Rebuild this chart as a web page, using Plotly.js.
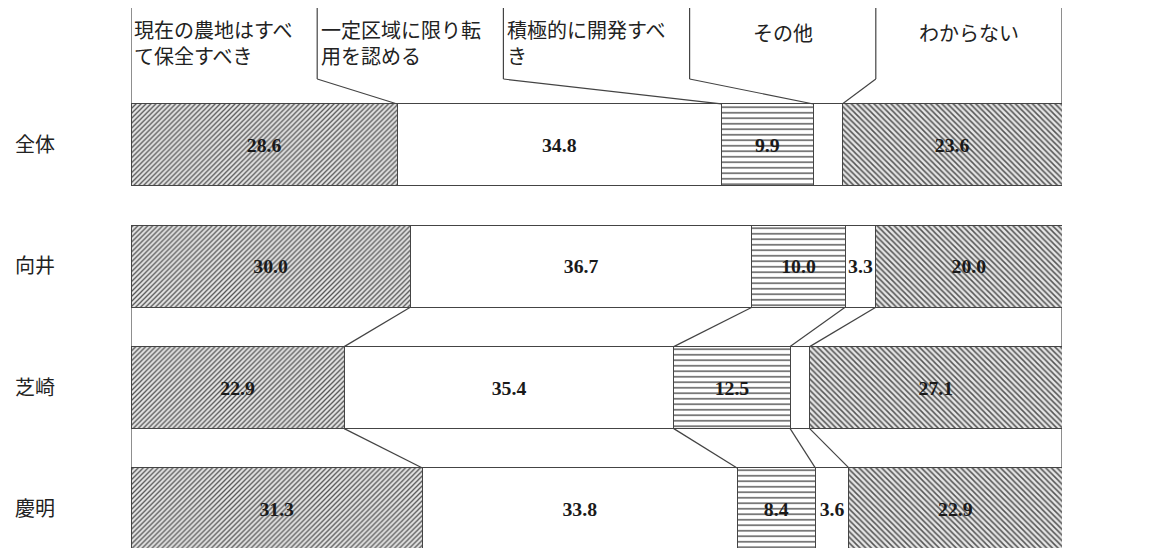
<!DOCTYPE html>
<html>
<head>
<meta charset="utf-8">
<script src="https://cdn.plot.ly/plotly-3.0.1.min.js"></script>
<style>
  body { margin: 0; background: #fff; }
  #graph { width: 1149px; height: 548px; }
</style>
</head>
<body>
<div id="graph"></div>
<script>
// 地域ごとの回答（%）
var rows = ["全体", "向井", "芝崎", "慶明"];
var nCount = [161, 30, 48, 83];

var headLabels = [
    "現在の農地はすべ<br>て保全すべき",
    "一定区域に限り転<br>用を認める",
    "積極的に開発すべ<br>き",
    "その他",
    "わからない"
];

var hozen   = [28.6, 30.0, 22.9, 31.3];
var tenyou  = [34.8, 36.7, 35.4, 33.8];
var kaihatsu = [9.9, 10.0, 12.5, 8.4];
var sonota  = [3.1, 3.3, 2.1, 3.6];
var wakaranai = [23.6, 20.0, 27.1, 22.9];

// ラベルが印刷されていない小さい値は空にする
var sonotaText = ["", "3.3", "", "3.6"];

var series = [hozen, tenyou, kaihatsu, sonota, wakaranai];

// 縦位置（px -> データ座標）
var H = 548;
var yTop = -1.195, yBottom = 3.322;
var pxUnit = H / (yBottom - yTop);
function py(px) { return yTop + px / pxUnit; }
var bw = 0.676;

var lineCol = "#444";
var txtFont = { family: "Liberation Serif, Times New Roman, serif", size: 20, color: "#1a1a1a", weight: "bold" };

var patterns = [
    { shape: "/", fgcolor: "#555", bgcolor: "#e6e6e6", size: 3.5, solidity: 0.38 },
    null,
    { shape: "-", fgcolor: "#333", bgcolor: "#ffffff", size: 5.5, solidity: 0.22 },
    null,
    { shape: "\\", fgcolor: "#555", bgcolor: "#e6e6e6", size: 4, solidity: 0.38 }
];

var data = [];
series.forEach(function(vals, i) {
    var txt = (i == 3) ? sonotaText : vals.map(function(v) { return v.toFixed(1); });
    var marker = { color: "#ffffff", line: { color: lineCol, width: 1 } };
    if (patterns[i]) marker.pattern = patterns[i];
    data.push({
        type: "bar",
        orientation: "h",
        x: vals,
        y: rows,
        width: bw,
        text: txt,
        textposition: "inside",
        insidetextanchor: "middle",
        textangle: 0,
        textfont: txtFont,
        marker: marker,
        hoverinfo: "skip",
        showlegend: false
    });
});

// 累積の境界
var cum = rows.map(function(r, j) {
    var c = [0];
    series.forEach(function(s) { c.push(c[c.length - 1] + s[j]); });
    return c;
});

var shapes = [];
function seg(x0, y0, x1, y1) {
    shapes.push({ type: "line", xref: "x", yref: "y", x0: x0, y0: y0, x1: x1, y1: y1,
        line: { color: lineCol, width: 1.2 }, layer: "above" });
}

// 見出し部分の枠と引き出し線
var hTop = py(8), hBot = py(79);
for (var k = 0; k <= 5; k++) {
    var hx = k * 20;
    if (k == 0 || k == 5) {
        seg(hx, hTop, hx, -bw / 2);
    } else {
        seg(hx, hTop, hx, hBot);
        seg(hx, hBot, cum[0][k], -bw / 2);
    }
}

// 向井→芝崎、芝崎→慶明 の間の連結線
for (var r = 1; r < 3; r++) {
    for (var k = 0; k <= 5; k++) {
        seg(cum[r][k], r + bw / 2, cum[r + 1][k], r + 1 - bw / 2);
    }
}

var annotations = [];
var jpFont = { family: "Noto Sans CJK JP, sans-serif", size: 20, color: "#222" };
headLabels.forEach(function(t, i) {
    var two = t.indexOf("<br>") >= 0;
    annotations.push({
        text: t, xref: "x", yref: "y",
        x: two ? i * 20 + 0.15 : i * 20 + 10,
        y: two ? py(42) : py(32),
        xanchor: two ? "left" : "center", yanchor: "middle", align: "left",
        showarrow: false, font: jpFont
    });
});

var nx = 100 + (1120 - 1062) / 9.31;
var nFont = { family: "Liberation Serif, Times New Roman, serif", size: 23, color: "#222" };
annotations.push({ text: "N", xref: "x", yref: "y", x: nx, y: py(47), showarrow: false,
    xanchor: "center", yanchor: "middle", font: nFont });
nCount.forEach(function(n, j) {
    annotations.push({ text: String(n), xref: "x", yref: "y", x: nx, y: rows[j], showarrow: false,
        xanchor: "center", yanchor: "middle", font: nFont });
});

var layout = {
    width: 1149,
    height: 548,
    margin: { l: 131, r: 87, t: 0, b: 0 },
    paper_bgcolor: "#fff",
    plot_bgcolor: "#fff",
    barmode: "stack",
    uniformtext: { mode: "show", minsize: 19 },
    xaxis: { range: [0, 100], visible: false, fixedrange: true },
    yaxis: {
        type: "category",
        range: [yBottom, yTop],
        showgrid: false, zeroline: false, showline: false, ticks: "",
        ticklabelstandoff: 75,
        tickfont: { family: "Noto Sans CJK JP, sans-serif", size: 20, color: "#222" },
        fixedrange: true
    },
    shapes: shapes,
    annotations: annotations
};

Plotly.newPlot("graph", data, layout, { displayModeBar: false, staticPlot: true });
</script>
</body>
</html>
